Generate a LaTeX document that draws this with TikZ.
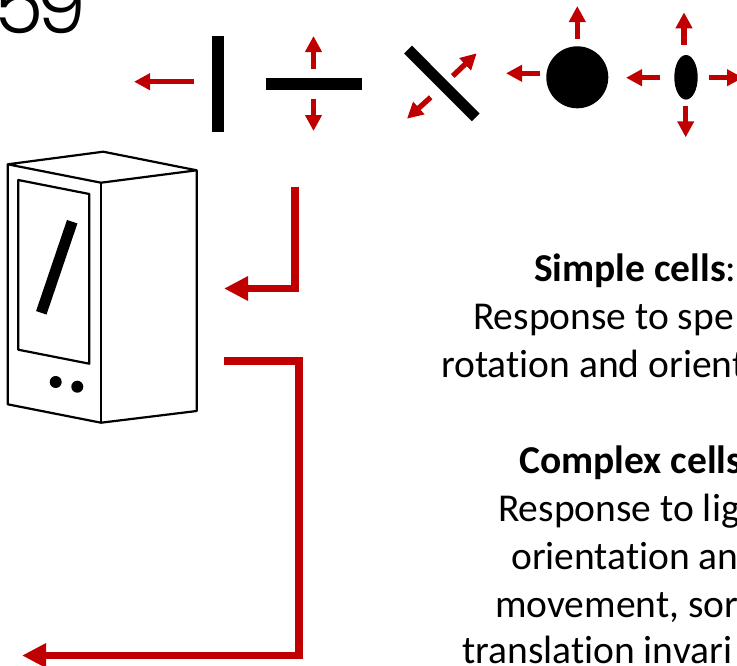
\documentclass[tikz,border=0pt]{standalone}
\usepackage{fontspec}
\setmainfont[Ligatures=NoCommon]{Carlito}
\newfontfamily\thinfont[UprightFont=* Light]{Poppins}
\usetikzlibrary{arrows.meta}
\definecolor{cellred}{HTML}{C00000}
\tikzset{
  resp/.style={draw=cellred,line width=5.3pt,-{Triangle[length=16pt,width=16pt]}},
  wire/.style={draw=cellred,line width=7.6pt,miter limit=10,-{Triangle[length=24pt,width=23pt]}},
  bar/.style={draw=black,line width=12pt},
  slimbar/.style={draw=black,line width=11pt},
  dev/.style={draw=black,line width=2.2pt,line join=round},
  txt/.style={anchor=base west,inner sep=0pt,font=\fontsize{39.5}{48}\selectfont},
  blob/.style={fill=black,inner sep=0pt,minimum size=0pt},
}
\begin{document}
\begin{tikzpicture}[x=1pt,y=-1pt]
\useasboundingbox (0,0) rectangle (737,665);
\clip (0,0) rectangle (737,665);
% year fragment
\node[anchor=base west,inner sep=0pt,font=\thinfont\fontsize{80}{84}\selectfont] (year) at (-6,33) {5\kern-7pt 9};
% stimuli
\draw[bar] (218,36) -- (218,132);
\draw[bar] (266,84) -- (362,84);
\draw[slimbar] (408,49.5) -- (475.7,117.3);
\node[blob,circle,minimum size=62pt] (spot) at (577.3,77.3) {};
\fill[black] (686,77.3) ellipse [x radius=11.7,y radius=22.3];
\coordinate (v1) at (194,81.7); \coordinate (v2) at (134,81.7);
\coordinate (h1) at (313.5,69); \coordinate (h2) at (313.5,36);
\coordinate (h3) at (313.5,99); \coordinate (h4) at (313.5,131);
\coordinate (d1) at (452.7,76); \coordinate (d2) at (476.7,53.3);
\coordinate (d3) at (430.7,97.3); \coordinate (d4) at (407,118.7);
\coordinate (s1) at (577.3,39); \coordinate (s2) at (577.3,6);
\coordinate (s3) at (539.7,73.3); \coordinate (s4) at (506,73.3);
\coordinate (e1) at (684,45); \coordinate (e2) at (684,12.3);
\coordinate (e3) at (685.7,105.7); \coordinate (e4) at (685.7,137.3);
\coordinate (e5) at (659.7,77.7); \coordinate (e6) at (626,77.7);
\coordinate (e7) at (709.3,77.7); \coordinate (e8) at (743,77.7);
\foreach \a/\b in {v1/v2,h1/h2,h3/h4,d1/d2,d3/d4,s1/s2,s3/s4,e1/e2,e3/e4,e5/e6,e7/e8}
  \draw[resp] (\a) -- (\b);
% recording device
\draw[dev] (7.7,164.3) -- (103.3,151.7) -- (196.7,170.3) -- (101,182.7) -- cycle;
\draw[dev] (7.7,164.3) -- (7.7,404.3) -- (101,422.7) -- (196.7,411) -- (196.7,170.3);
\draw[dev] (101,182.7) -- (101,422.7);
\draw[dev] (18.3,180) -- (89.3,194) -- (89.3,363.7) -- (18.3,349.7) -- cycle;
\draw[slimbar] (72.2,221.7) -- (41.3,312.8);
\node[blob,circle,minimum size=12pt] (dotA) at (55.7,382) {};
\node[blob,circle,minimum size=12pt] (dotB) at (77.3,386.7) {};
% wires
\coordinate (w1) at (295,186.7); \coordinate (w2) at (295,288.5); \coordinate (w3) at (224,288.5);
\draw[wire] (w1) -- (w2) -- (w3);
\coordinate (x1) at (223.7,361); \coordinate (x2) at (298.7,361);
\coordinate (x3) at (298.7,655.5); \coordinate (x4) at (22,655.5);
\draw[wire] (x1) -- (x2) -- (x3) -- (x4);
% text
\node[txt] (t1) at (534,281) {\textbf{Simple cells}:};
\node[txt] (t2) at (473,329) {Response to spe};
\node[txt] (t3) at (441,377) {rotation and orient};
\node[txt] (t4) at (519,473) {\textbf{Complex cells}};
\node[txt] (t5) at (498,521) {Response to lig};
\node[txt] (t6) at (511,569) {orientation an};
\node[txt] (t7) at (495,617) {movement, sor};
\node[txt] (t8) at (462,663) {translation invari};
\end{tikzpicture}
\end{document}
